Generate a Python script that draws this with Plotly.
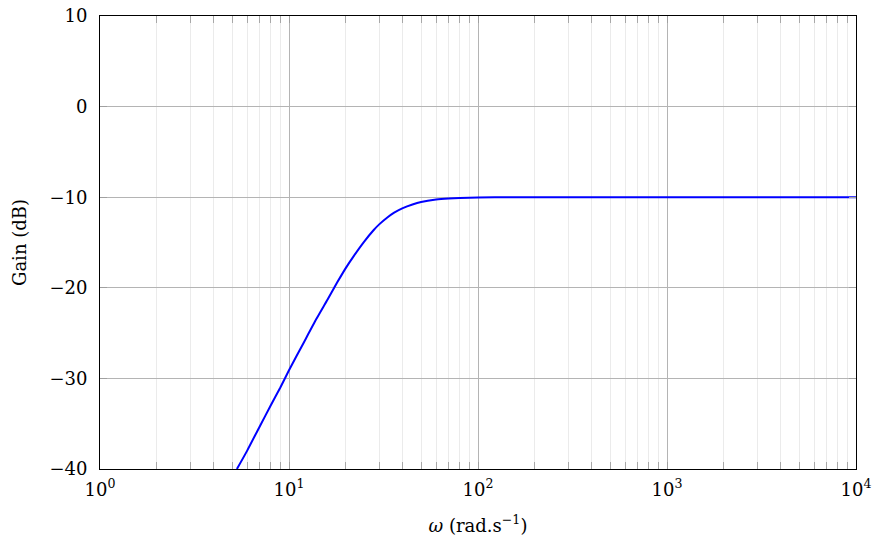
import plotly.graph_objects as go

# Values
omega = [5.3, 6, 7, 8, 9, 10, 12, 14, 16, 18, 20, 22, 25, 28, 30, 33, 36, 40,
         45, 50, 60, 70, 80, 100, 150, 200, 500, 1000, 10000]
gain_db = [-40.0, -38.0, -35.3, -33.0, -31.0, -29.1, -26.0, -23.4, -21.3, -19.4,
           -17.8, -16.5, -14.9, -13.65, -13.0, -12.26, -11.7, -11.2, -10.8, -10.53,
           -10.26, -10.14, -10.08, -10.03, -10.01, -10.0, -10.0, -10.0, -10.0]

x_tickvals = [1, 10, 100, 1000, 10000]
x_ticktext = ["10<sup>0</sup>", "10<sup>1</sup>", "10<sup>2</sup>", "10<sup>3</sup>", "10<sup>4</sup>"]
y_tickvals = [-40, -30, -20, -10, 0, 10]

FONT = "DejaVu Serif"
FS = 18

fig = go.Figure()
fig.add_trace(go.Scatter(
    x=omega, y=gain_db, mode="lines",
    line=dict(color="#0000ff", width=2, shape="spline", smoothing=0.6),
    showlegend=False, cliponaxis=True,
))

fig.update_layout(
    width=880, height=548,
    margin=dict(l=100, r=24, t=16, b=79),
    paper_bgcolor="white", plot_bgcolor="white",
    font=dict(family=FONT, size=FS, color="black"),
)
fig.update_xaxes(
    type="log", range=[0, 4], automargin=False, ticklabeloverflow="allow",
    tickvals=x_tickvals, ticktext=x_ticktext,
    showline=True, linecolor="black", linewidth=1, mirror="ticks",
    ticks="inside", ticklen=7, tickcolor="#a0a0a0",
    showgrid=True, gridcolor="#b4b4b4", gridwidth=1,
    minor=dict(dtick="D1", ticks="inside", ticklen=7, tickcolor="#a8a8a8",
               showgrid=True, gridcolor="#ebebeb", gridwidth=1),
    zeroline=False, ticklabelstandoff=4,
    title=dict(text="<i>ω</i> (rad.s<sup>−1</sup>)", standoff=20,
               font=dict(family=FONT, size=FS)),
    tickfont=dict(family=FONT, size=FS),
)
fig.update_yaxes(
    range=[-40, 10], tickvals=y_tickvals, automargin=False, ticklabeloverflow="allow",
    showline=True, linecolor="black", linewidth=1, mirror="ticks",
    ticks="inside", ticklen=7, tickcolor="#a0a0a0",
    showgrid=True, gridcolor="#b4b4b4", gridwidth=1,
    zeroline=False, ticklabelstandoff=8,
    title=dict(text="Gain (dB)", standoff=18, font=dict(family=FONT, size=FS)),
    tickfont=dict(family=FONT, size=FS),
)

# remove the browser's default 8px body margin so the figure fills the window exactly
fig.write_html("out.html", config={"displayModeBar": False},
               post_script="document.body.style.margin='0';")
